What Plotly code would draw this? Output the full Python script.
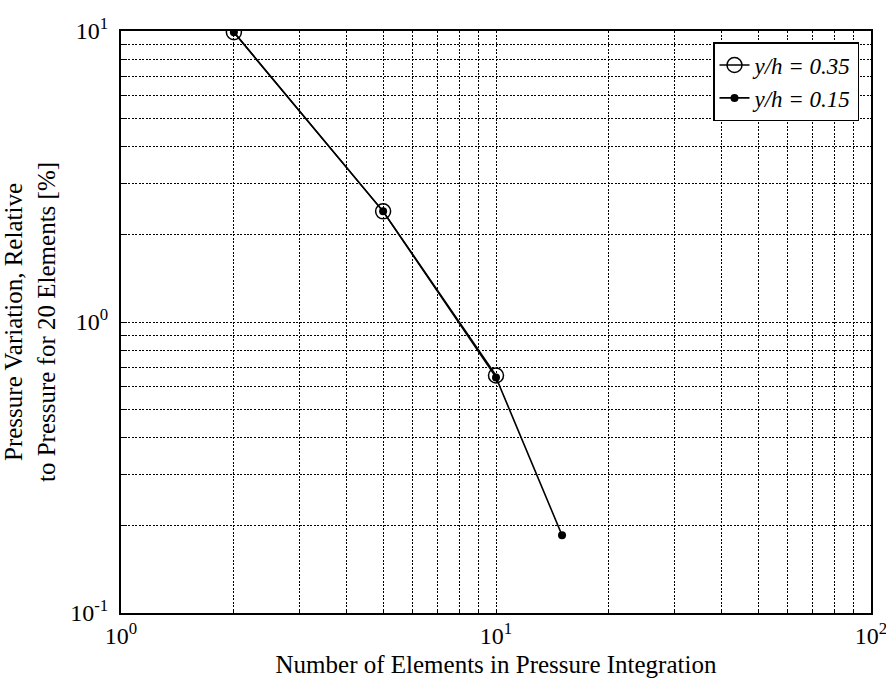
import plotly.graph_objects as go

x_035 = [2, 5, 10]
y_035 = [9.9, 2.4, 0.655]
x_015 = [2, 5, 10, 15]
y_015 = [9.9, 2.4, 0.645, 0.185]

name_035 = "<i>y/h = 0.35</i>"
name_015 = "<i>y/h = 0.15</i>"

x_title = "Number of Elements in Pressure Integration"
y_title = "Pressure Variation, Relative<br>to Pressure for 20 Elements [%]"

x_major = [1, 10, 100]
x_major_text = ["10<sup>0</sup>", "10<sup>1</sup>", "10<sup>2</sup>"]
y_major = [0.1, 1, 10]
y_major_text = ["10<sup>-1</sup>", "10<sup>0</sup>", "10<sup>1</sup>"]
x_minor = [2, 3, 4, 5, 6, 7, 8, 9, 20, 30, 40, 50, 60, 70, 80, 90]
y_minor = [0.2, 0.3, 0.4, 0.5, 0.6, 0.7, 0.8, 0.9, 2, 3, 4, 5, 6, 7, 8, 9]

FONT = "Liberation Serif"
DOT = "2px,1.5px"

fig = go.Figure()
fig.add_trace(go.Scatter(
    x=x_035, y=y_035, name=name_035, mode="lines+markers",
    line=dict(color="black", width=1.6),
    marker=dict(symbol="circle-open", size=15, color="black", line=dict(width=1.5)),
))
fig.add_trace(go.Scatter(
    x=x_015, y=y_015, name=name_015, mode="lines+markers",
    line=dict(color="black", width=1.6),
    marker=dict(symbol="circle", size=8, color="black"),
))

def axis_common(minor_vals, title_size):
    return dict(
        type="log", showline=True, linecolor="black", linewidth=2, mirror=True,
        showgrid=True, gridcolor="black", gridwidth=1, griddash=DOT,
        ticks="inside", ticklen=4, tickcolor="black", zeroline=False,
        tickfont=dict(family=FONT, size=24, color="black"),
        title_font=dict(family=FONT, size=title_size, color="black"),
        ticklabeloverflow="allow", automargin=False,
        minor=dict(tickvals=minor_vals, showgrid=True, gridcolor="black",
                   gridwidth=1, griddash=DOT, ticks="inside", ticklen=4,
                   tickcolor="black"),
    )

fig.update_xaxes(range=[0, 2], tickvals=x_major, ticktext=x_major_text,
                 title_text=x_title, title_standoff=8, **axis_common(x_minor, 25))
fig.update_yaxes(range=[-1, 1], tickvals=y_major, ticktext=y_major_text,
                 title_text=y_title, title_standoff=14, ticklabelstandoff=6,
                 **axis_common(y_minor, 25))

fig.update_layout(
    width=886, height=692,
    margin=dict(l=121, r=15, t=31, b=79, autoexpand=False),
    plot_bgcolor="white", paper_bgcolor="white",
    font=dict(family=FONT, color="black"),
    legend=dict(
        x=0.984, y=0.981, xanchor="right", yanchor="top",
        bgcolor="white", bordercolor="black", borderwidth=1.5,
        font=dict(family=FONT, size=23, color="black"),
        tracegroupgap=0,
    ),
    showlegend=True,
)

fig.write_html("out.html")
